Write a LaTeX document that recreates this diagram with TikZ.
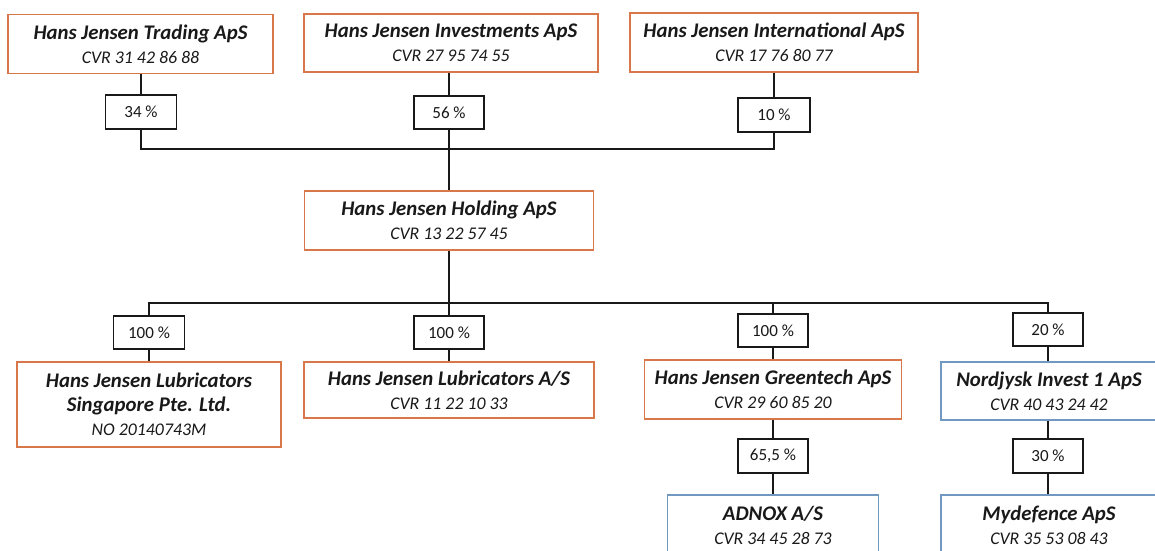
\documentclass[tikz,border=0pt]{standalone}
\usepackage{fontspec}
\setmainfont{Carlito}
\definecolor{orng}{RGB}{216,120,74}
\definecolor{blu}{RGB}{112,152,192}
\definecolor{ink}{RGB}{25,25,25}
\newcommand\ttl[1]{{\fontsize{20.8}{24}\selectfont\bfseries\itshape #1}}
\newcommand\cvrtxt[1]{{\fontsize{17.8}{24}\selectfont\itshape #1}}
\tikzset{
  co/.style={draw=orng, line width=1.4pt, fill=white, align=center, inner sep=0pt, text=ink, font=\fontsize{18}{24}\selectfont},
  nb/.style={co, draw=blu},
  pc/.style={draw=ink, line width=1.3pt, fill=white, minimum width=70pt, minimum height=33pt, inner sep=0pt, text=ink, font=\fontsize{17}{20}\selectfont},
  ln/.style={draw=ink, line width=1.3pt}
}
\begin{document}
\begin{tikzpicture}[x=1pt,y=-1pt]
\useasboundingbox (0,0) rectangle (1155,550);
\clip (0,0) rectangle (1155,550);
\fill[white] (0,0) rectangle (1155,550);
% top owners
\node[co, minimum width=265pt, minimum height=59pt] (trading) at (140.5,44) {\ttl{Hans Jensen Trading ApS}\\\cvrtxt{CVR 31 42 86 88}};
\node[co, minimum width=294pt, minimum height=58pt] (invest) at (451,43) {\ttl{Hans Jensen Investments ApS}\\\cvrtxt{CVR 27 95 74 55}};
\node[co, minimum width=288pt, minimum height=59pt] (intl) at (774,42.5) {\ttl{Hans Jensen International ApS}\\\cvrtxt{CVR 17 76 80 77}};
% top percentages
\node[pc, minimum width=71pt, minimum height=34pt] (p34) at (141,112) {34 \%};
\node[pc] (p56) at (449,112.5) {56 \%};
\node[pc, minimum width=72pt, minimum height=34pt] (p10) at (774,115) {10 \%};
\coordinate (j1) at (449,149);
% holding
\node[co, minimum width=289pt, minimum height=59pt] (holding) at (449,220.5) {\ttl{Hans Jensen Holding ApS}\\\cvrtxt{CVR 13 22 57 45}};
\coordinate (j2) at (449,303);
% bottom percentages
\node[pc, minimum width=71pt] (p100a) at (149,332.5) {100 \%};
\node[pc] (p100b) at (449,332.5) {100 \%};
\node[pc] (p100c) at (773,330.5) {100 \%};
\node[pc] (p20) at (1048,329.5) {20 \%};
% subsidiaries
\node[co, minimum width=264pt, minimum height=85pt] (sing) at (149,404.5) {\ttl{Hans Jensen Lubricators}\\\ttl{Singapore Pte. Ltd.}\\\cvrtxt{NO 20140743M}};
\node[co, minimum width=290pt, minimum height=56pt] (lubas) at (449,390) {\ttl{Hans Jensen Lubricators A/S}\\\cvrtxt{CVR 11 22 10 33}};
\node[co, minimum width=257pt, minimum height=59pt] (green) at (773,389.5) {\ttl{Hans Jensen Greentech ApS}\\\cvrtxt{CVR 29 60 85 20}};
\node[nb, minimum width=216pt, minimum height=58pt] (nord) at (1049,391) {\ttl{Nordjysk Invest 1 ApS}\\\cvrtxt{CVR 40 43 24 42}};
\node[pc, minimum height=34pt] (p655) at (773,456) {65,5 \%};
\node[pc, minimum height=34pt] (p30) at (1048,456) {30 \%};
\node[nb, minimum width=211pt, minimum height=60pt] (adnox) at (773,525) {\ttl{ADNOX A/S}\\\cvrtxt{CVR 34 45 28 73}};
\node[nb, minimum width=216pt, minimum height=60pt] (myd) at (1049,525) {\ttl{Mydefence ApS}\\\cvrtxt{CVR 35 53 08 43}};
% connectors top
\draw[ln] (p34.north |- trading.south) -- (p34.north);
\draw[ln] (p56.north |- invest.south) -- (p56.north);
\draw[ln] (p10.north |- intl.south) -- (p10.north);
\draw[ln] (p34.south) |- (j1);
\draw[ln] (p10.south) |- (j1);
\draw[ln] (p56.south) -- (holding.north);
% connectors bottom
\draw[ln] (holding.south) -- (p100b.north);
\draw[ln] (p100a.north) |- (j2) -| (p20.north);
\draw[ln] (p100c.north) -- (p100c.north |- j2);
\draw[ln] (p100a.south) -- (sing.north);
\draw[ln] (p100b.south) -- (lubas.north);
\draw[ln] (p100c.south) -- (green.north);
\draw[ln] (p20.south) -- (p20.south |- nord.north);
\draw[ln] (green.south) -- (p655.north);
\draw[ln] (p655.south) -- (adnox.north);
\draw[ln] (p30.north |- nord.south) -- (p30.north);
\draw[ln] (p30.south) -- (p30.south |- myd.north);
\end{tikzpicture}
\end{document}
